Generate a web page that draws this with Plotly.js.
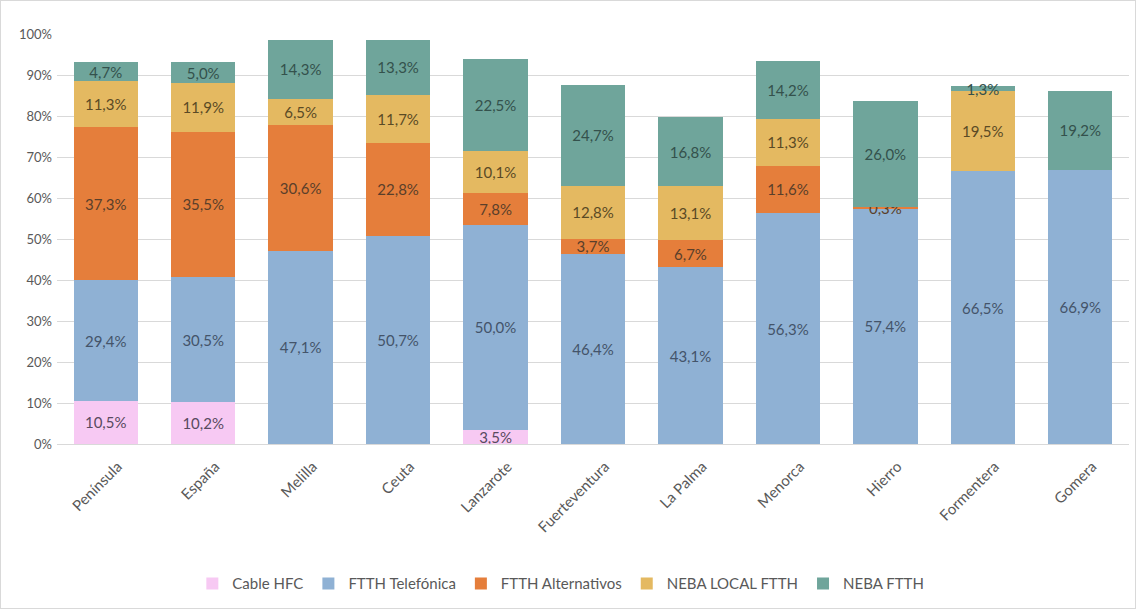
<!DOCTYPE html>
<html>
<head>
<meta charset="utf-8">
<script src="https://cdn.plot.ly/plotly-3.0.1.min.js"></script>
<style>
html,body{margin:0;padding:0;background:#fff;}
#chart{width:1134px;height:607px;border:1px solid #d9d9d9;}
</style>
</head>
<body>
<div id="chart"></div>
<script>
const categories = ["Península","España","Melilla","Ceuta","Lanzarote","Fuerteventura","La Palma","Menorca","Hierro","Formentera","Gomera"];
const cableHFC        = [10.5, 10.2, null, null, 3.5, null, null, null, null, null, null];
const ftthTelefonica  = [29.4, 30.5, 47.1, 50.7, 50.0, 46.4, 43.1, 56.3, 57.4, 66.5, 66.9];
const ftthAlternativos= [37.3, 35.5, 30.6, 22.8, 7.8, 3.7, 6.7, 11.6, 0.3, null, null];
const nebaLocalFtth   = [11.3, 11.9, 6.5, 11.7, 10.1, 12.8, 13.1, 11.3, null, 19.5, null];
const nebaFtth        = [4.7, 5.0, 14.3, 13.3, 22.5, 24.7, 16.8, 14.2, 26.0, 1.3, 19.2];

const seriesNames  = ["Cable HFC","FTTH Telefónica","FTTH Alternativos","NEBA LOCAL FTTH","NEBA FTTH"];
const seriesValues = [cableHFC, ftthTelefonica, ftthAlternativos, nebaLocalFtth, nebaFtth];
const seriesColors = ["#f7c9f3","#8fb1d4","#e57e3b","#e4b961","#6fa59b"];
const textColors   = ["#584a60","#44546a","#5a3f2a","#5a4a25","#34514c"];

const font = "Lato, 'Open Sans', 'DejaVu Sans', sans-serif";

const traces = seriesNames.map((name, i) => ({
  type: "bar",
  name: name,
  x: categories,
  y: seriesValues[i],
  marker: {color: seriesColors[i]},
  texttemplate: "%{y:.1f}%",
  textposition: "inside",
  insidetextanchor: "middle",
  textangle: 0,
  constraintext: "none",
  cliponaxis: false,
  textfont: {family: font, size: 15, color: textColors[i]},
  hoverinfo: "x+y+name"
}));

const layout = {
  width: 1134, height: 607,
  barmode: "stack",
  bargap: 0.34,
  separators: ",.",
  paper_bgcolor: "#fff",
  plot_bgcolor: "#fff",
  font: {family: font, size: 13, color: "#595959"},
  margin: {l: 56, r: 6, t: 33, b: 164},
  uniformtext: {mode: "show", minsize: 15},
  xaxis: {
    type: "category",
    tickangle: -45,
    tickfont: {family: font, size: 15, color: "#595959"},
    ticklabelstandoff: 7,
    ticklabelshift: 12,
    showline: true, linecolor: "#d9d9d9", linewidth: 1,
    ticks: "", showgrid: false
  },
  yaxis: {
    range: [0, 100],
    dtick: 10,
    ticksuffix: "%",
    tickfont: {family: font, size: 13, color: "#595959"},
    ticklabelstandoff: 4,
    showgrid: true, gridcolor: "#d9d9d9", gridwidth: 1,
    zeroline: false, showline: false, ticks: ""
  },
  legend: {
    orientation: "h",
    x: 0.47, xanchor: "center",
    y: -0.341, yanchor: "middle",
    itemwidth: 30,
    font: {family: font, size: 15, color: "#595959"},
    traceorder: "normal"
  },
  showlegend: true
};

Plotly.newPlot("chart", traces, layout, {displayModeBar: false, staticPlot: true});
</script>
</body>
</html>
